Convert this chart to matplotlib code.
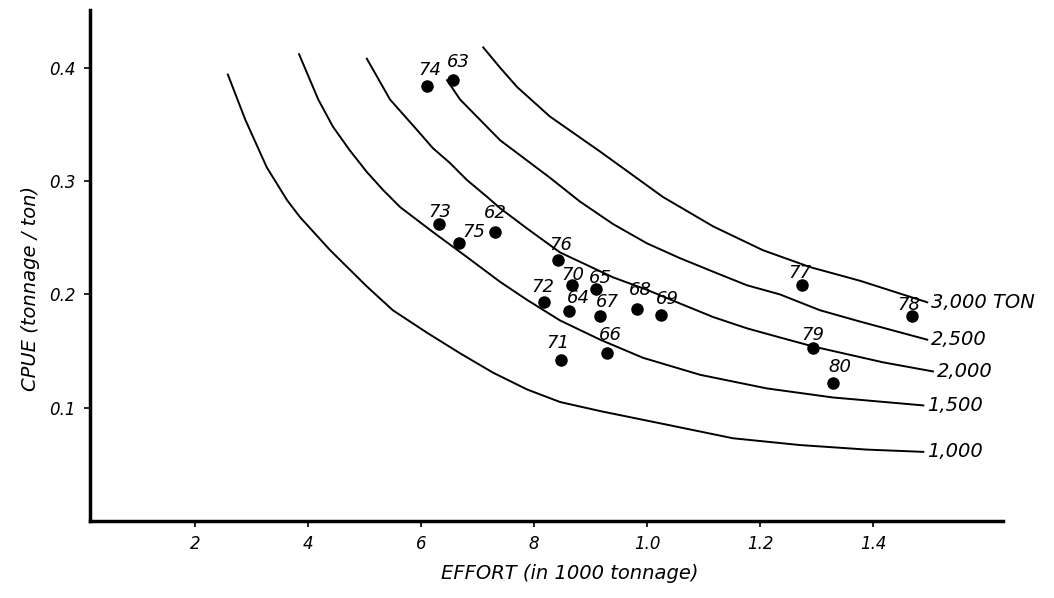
import matplotlib
matplotlib.use("Agg")
import matplotlib.pyplot as plt

# survey years and their (effort, CPUE) points
years = ["74", "63", "73", "62", "75", "76", "70", "65", "72", "64",
         "67", "68", "69", "71", "66", "77", "78", "79", "80"]
effort = [6.10, 6.57, 6.32, 7.31, 6.68, 8.43, 8.67, 9.09, 8.17, 8.62,
          9.16, 9.83, 10.25, 8.47, 9.29, 12.74, 14.69, 12.94, 13.29]
cpue = [0.384, 0.389, 0.262, 0.255, 0.245, 0.230, 0.208, 0.205, 0.193, 0.185,
        0.181, 0.187, 0.182, 0.142, 0.148, 0.208, 0.181, 0.153, 0.122]

# iso-catch curves
catch_labels = ["1,000", "1,500", "2,000", "2,500", "3,000 TON"]
curve_x = [
    [2.58, 2.89, 3.27, 3.63, 3.86, 4.39, 5.04, 5.50, 6.11, 6.69, 7.27, 7.88,
     8.46, 9.17, 10.35, 11.52, 12.71, 13.89, 14.89],
    [3.84, 4.18, 4.44, 4.74, 5.04, 5.33, 5.63, 6.21, 6.81, 7.40, 7.88, 8.46,
     9.17, 9.93, 10.94, 12.12, 13.29, 14.89],
    [5.04, 5.45, 5.93, 6.21, 6.51, 6.81, 7.17, 7.40, 7.88, 8.46, 9.40, 10.00,
     10.58, 11.17, 11.77, 12.35, 12.94, 14.18, 15.06],
    [6.46, 6.69, 7.40, 8.28, 8.81, 9.40, 10.00, 10.58, 11.17, 11.77, 12.35,
     13.06, 13.77, 14.96],
    [7.10, 7.40, 7.70, 8.28, 9.17, 10.28, 11.17, 12.05, 12.89, 13.77, 14.96],
]
curve_y = [
    [0.394, 0.354, 0.312, 0.283, 0.268, 0.239, 0.207, 0.186, 0.166, 0.148,
     0.131, 0.116, 0.105, 0.097, 0.085, 0.073, 0.067, 0.063, 0.061],
    [0.412, 0.372, 0.348, 0.327, 0.308, 0.292, 0.277, 0.255, 0.233, 0.211,
     0.195, 0.177, 0.160, 0.144, 0.129, 0.117, 0.109, 0.102],
    [0.408, 0.372, 0.345, 0.329, 0.316, 0.301, 0.286, 0.276, 0.258, 0.237,
     0.215, 0.204, 0.192, 0.180, 0.170, 0.162, 0.154, 0.140, 0.132],
    [0.389, 0.372, 0.336, 0.303, 0.282, 0.262, 0.245, 0.232, 0.220, 0.208,
     0.200, 0.186, 0.176, 0.160],
    [0.418, 0.400, 0.383, 0.357, 0.326, 0.286, 0.260, 0.239, 0.224, 0.212,
     0.193],
]

x_ticks = [2, 4, 6, 8, 10, 12, 14]
x_tick_labels = ["2", "4", "6", "8", "1.0", "1.2", "1.4"]
y_ticks = [0.1, 0.2, 0.3, 0.4]
y_tick_labels = ["0.1", "0.2", "0.3", "0.4"]

# where each year label sits relative to its dot (pixels)
label_offsets = [(3, 16), (5, 18), (1, 12), (0, 19), (14, 11), (2, 15), (1, 10),
                 (5, 11), (-1, 15), (9, 13), (8, 14), (3, 19), (6, 16), (-3, 17),
                 (3, 18), (-2, 12), (-3, 11), (0, 13), (7, 16)]

fig = plt.figure(figsize=(10.54, 5.98), dpi=100)
ax = fig.add_axes([0.0854, 0.1288, 0.8662, 0.8545])

for xs, ys, lab in zip(curve_x, curve_y, catch_labels):
    ax.plot(xs, ys, color="black", linewidth=1.4, solid_joinstyle="round")
    ax.annotate(lab, (xs[-1], ys[-1]), xytext=(4, 0), textcoords="offset pixels",
                ha="left", va="center", fontsize=14, style="italic")

ax.plot(effort, cpue, "o", color="black", markersize=8)
for yr, x, y, off in zip(years, effort, cpue, label_offsets):
    ax.annotate(yr, (x, y), xytext=off, textcoords="offset pixels",
                ha="center", va="center", fontsize=13, style="italic")

ax.set_xlim(0.14, 16.3)
ax.set_ylim(0, 0.451)
ax.set_xticks(x_ticks)
ax.set_xticklabels(x_tick_labels, style="italic", fontsize=12)
ax.set_yticks(y_ticks)
ax.set_yticklabels(y_tick_labels, style="italic", fontsize=12)
ax.tick_params(direction="out", length=4, width=1.2, pad=6)

for side in ["top", "right"]:
    ax.spines[side].set_visible(False)
for side in ["left", "bottom"]:
    ax.spines[side].set_linewidth(2.5)

ax.set_xlabel("EFFORT (in 1000 tonnage)", fontsize=14, style="italic")
ax.set_ylabel("CPUE (tonnage / ton)", fontsize=14, style="italic")
ax.xaxis.set_label_coords(0.526, -0.085)
ax.yaxis.set_label_coords(-0.055, 0.455)

fig.savefig("out.png", dpi=100)
plt.close(fig)
